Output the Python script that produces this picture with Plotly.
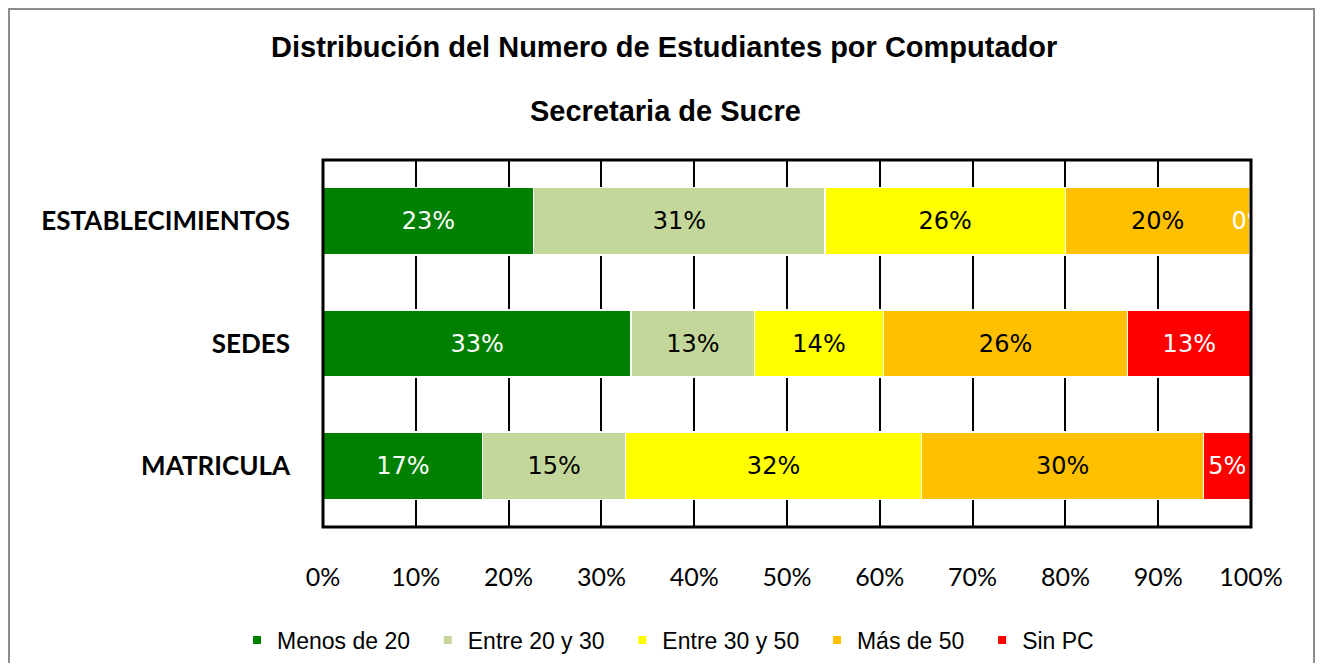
import plotly.graph_objects as go

categories = ["ESTABLECIMIENTOS", "SEDES", "MATRICULA"]
series_names = ["Menos de 20", "Entre 20 y 30", "Entre 30 y 50", "Más de 50", "Sin PC"]
menos_20 = [22.7, 33.2, 17.2]
entre_20_30 = [31.4, 13.3, 15.4]
entre_30_50 = [25.9, 13.9, 31.9]
mas_50 = [19.9, 26.3, 30.4]
sin_pc = [0.1, 13.3, 5.1]
x_tick_vals = [0, 10, 20, 30, 40, 50, 60, 70, 80, 90, 100]
x_tick_text = ["0%", "10%", "20%", "30%", "40%", "50%", "60%", "70%", "80%", "90%", "100%"]

values = [menos_20, entre_20_30, entre_30_50, mas_50, sin_pc]
colors = ["#008000", "#C4D79B", "#FFFF00", "#FFC000", "#FF0000"]
text_colors = ["white", "black", "black", "black", "white"]

# page body has an 8px margin; figure sized to fit the window
W, H = 1307, 655
L, R, T, B = 315, 64, 152, 136
pw, ph = W - L - R, H - T - B
OFF = 8


def px_x(sx):
    return (sx - OFF - L) / pw


def px_y(sy):
    return (H - B - (sy - OFF)) / ph


NB = "\u00a0" * 2

fig = go.Figure()
for name, vals, col, tc in zip(series_names, values, colors, text_colors):
    fig.add_trace(go.Bar(
        name=name, y=categories, x=vals, orientation="h",
        marker=dict(color=col, line=dict(color="white", width=1.5)),
        text=[f"{v:.0f}%" for v in vals],
        textposition="inside", insidetextanchor="middle",
        constraintext="none", textangle=0, cliponaxis=True,
        insidetextfont=dict(family="DejaVu Sans", size=24, color=tc),
        width=0.55, showlegend=False,
    ))

# legend entries with small square keys
for i, (name, col) in enumerate(zip(series_names, colors)):
    label = name + (NB if i < len(series_names) - 1 else "")
    fig.add_trace(go.Scatter(
        name=label, x=[None], y=[None], mode="markers",
        marker=dict(symbol="square", size=8, color=col),
        showlegend=True, hoverinfo="skip",
    ))

fig.update_layout(
    width=W, height=H, barmode="stack",
    margin=dict(l=L, r=R, t=T, b=B, autoexpand=False),
    paper_bgcolor="white", plot_bgcolor="white",
    showlegend=True,
    legend=dict(orientation="h", x=px_x(668), xanchor="center",
                y=px_y(640), yanchor="middle",
                font=dict(family="Liberation Sans", size=23, color="black"),
                traceorder="normal"),
    xaxis=dict(range=[0, 100], tickvals=x_tick_vals, ticktext=x_tick_text,
               showgrid=True, gridcolor="black", gridwidth=2,
               zeroline=False, showline=False, ticks="",
               ticklabelstandoff=33,
               tickfont=dict(family="Lato", size=25, color="black")),
    yaxis=dict(range=[2.5, -0.5], autorange=False, showgrid=False, zeroline=False,
               showline=False, ticks="", ticklabelstandoff=32,
               tickfont=dict(family="Lato", size=26, color="black", weight="bold")),
    annotations=[
        dict(text="<b>Distribución del Numero de Estudiantes por Computador</b>",
             xref="paper", yref="paper", x=px_x(664), y=px_y(47),
             xanchor="center", yanchor="middle", showarrow=False,
             font=dict(family="Liberation Sans", size=29, color="black")),
        dict(text="<b>Secretaria de Sucre</b>",
             xref="paper", yref="paper", x=px_x(665), y=px_y(111),
             xanchor="center", yanchor="middle", showarrow=False,
             font=dict(family="Liberation Sans", size=29, color="black")),
    ],
    shapes=[
        dict(type="rect", xref="paper", yref="paper", x0=0, x1=1, y0=0, y1=1,
             line=dict(color="black", width=3), layer="above"),
        dict(type="rect", xref="paper", yref="paper",
             x0=(1 - L) / pw, x1=(W - 1 - L) / pw,
             y0=(H - B - H - 10) / ph, y1=(H - B - 1) / ph,
             line=dict(color="#8c8c8c", width=2), layer="below"),
    ],
)

fig.write_html("out.html")
